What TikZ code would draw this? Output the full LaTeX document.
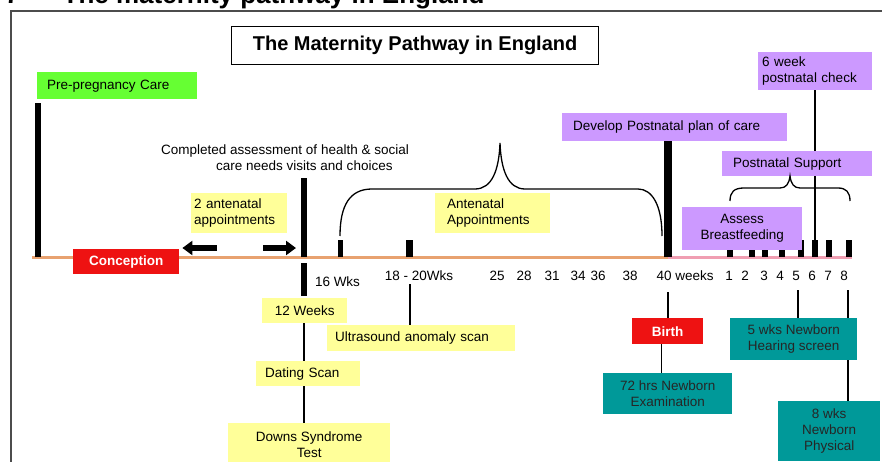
\documentclass[tikz,border=0pt]{standalone}
\usepackage{fontspec}
\setsansfont{Liberation Sans}
\usetikzlibrary{arrows.meta, positioning, calc, backgrounds}

\definecolor{pathyellow}{RGB}{255,255,153}
\definecolor{pathgreen}{RGB}{102,255,51}
\definecolor{pathpurple}{RGB}{204,153,255}
\definecolor{pathteal}{RGB}{0,153,153}
\definecolor{pathred}{RGB}{238,18,18}
\definecolor{lineorange}{RGB}{232,162,112}
\definecolor{linepink}{RGB}{240,158,178}

\begin{document}
\begin{tikzpicture}[x=1pt, y=-1pt, font=\sffamily\fontsize{13.5}{16}\selectfont,
    b/.style={anchor=north west, inner sep=0pt, align=center},
    lb/.style={anchor=north west, inner ysep=0pt, align=left},
    bar/.style={line width=6pt},
    lnk/.style={line width=1.4pt},
    brc/.style={line width=1.3pt},
    fat/.style={line width=6pt, -{Triangle[length=10pt,width=14pt]}},
    wht/.style={text=white, font=\sffamily\bfseries\fontsize{13.5}{16}\selectfont}]
\useasboundingbox (0,0) rectangle (882,462);
\clip (0,0) rectangle (882,462);
\begin{scope}[on background layer]
\fill[white] (0,0) rectangle (882,462);
\end{scope}

% heading and frame
\node[anchor=base west, inner sep=0pt, font=\sffamily\bfseries\fontsize{26}{28}\selectfont] (head) at (5,4)
  {7\hspace{43pt}The maternity pathway in England};
\draw[line width=2pt, black!70] (11,480) -- (11,11) -- (900,11);
\node[b, draw, line width=1.2pt, minimum width=367pt, minimum height=38pt,
  font=\sffamily\bfseries\fontsize{20}{22}\selectfont] (title) at (231,26) {The Maternity Pathway in England};

% timeline points
\coordinate (t0) at (37.5,257);
\coordinate (t12) at (304,257);
\coordinate (t16) at (340,257);
\coordinate (t18) at (409,257);
\coordinate (t40) at (668,257);
\coordinate (c1820) at (410,284);
\coordinate (c40) at (668,292);
\coordinate (c5) at (798,290);
\coordinate (c8) at (848,290);

% boxes
\node[lb, fill=pathgreen, inner xsep=10pt, text width=140pt, minimum height=27pt] (prepreg) at (37,72) {Pre-pregnancy Care};
\node[b, fill=pathred, wht, minimum width=106pt, minimum height=25pt] (concep) at (73,249) {Conception};
\node[lb, fill=pathyellow, inner xsep=3pt, text width=90pt, minimum height=40pt] (ante2) at (191,193) {2 antenatal\\appointments};
\node[anchor=north west, inner sep=0pt, align=left] (assess1) at (161,145)
  {Completed assessment of health \& social\\\hspace*{55pt}care needs visits and choices};
\node[b, fill=pathyellow, minimum width=85pt, minimum height=25pt] (wk12) at (262,298) {12 Weeks};
\node[lb, fill=pathyellow, inner xsep=9pt, text width=86pt, minimum height=25pt] (dating) at (256,361) {Dating Scan};
\node[b, fill=pathyellow, minimum width=162pt, minimum height=42pt] (downs) at (228,423) {Downs Syndrome\\Test};
\node[lb, fill=pathyellow, inner xsep=8pt, text width=172pt, minimum height=26pt] (ultra) at (327,325) {Ultrasound anomaly scan};
\node[lb, fill=pathyellow, inner xsep=12pt, text width=91pt, minimum height=40pt] (ante) at (435,193) {Antenatal\\Appointments};
\node[lb, fill=pathpurple, inner xsep=11pt, text width=203pt, minimum height=28pt] (plan) at (562,113) {Develop Postnatal plan of care};
\node[lb, fill=pathpurple, inner xsep=4pt, text width=106pt, minimum height=38pt] (check6) at (758,52) {6 week\\postnatal check};
\node[lb, fill=pathpurple, inner xsep=11pt, text width=128pt, minimum height=25pt] (support) at (722,151) {Postnatal Support};
\node[b, fill=pathpurple, minimum width=120pt, minimum height=43pt] (assess) at (682,207) {Assess\\Breastfeeding};
\node[b, fill=pathred, wht, minimum width=71pt, minimum height=26pt] (birth) at (632,318) {Birth};
\node[b, fill=pathteal, text=black!85, minimum width=129pt, minimum height=41pt] (exam72) at (603,373) {72 hrs Newborn\\Examination};
\node[b, fill=pathteal, text=black!85, minimum width=127pt, minimum height=42pt] (hear5) at (730,318) {5 wks Newborn\\Hearing screen};
\node[b, fill=pathteal, text=black!85, minimum width=102pt, minimum height=60pt] (phys8) at (778,401) {8 wks\\Newborn\\Physical};

% week labels
\node[inner sep=0pt] (l16) at (337.5,282) {16 Wks};
\node[inner sep=0pt] (l1820) at (419,276) {18 - 20Wks};
\node[inner sep=0pt] (lweeks) at (694.5,276) {weeks};
\foreach \x/\t in {497/25, 524/28, 552/31, 578/34, 598/36, 630/38, 664/40, 729/1, 745/2, 764/3, 780/4, 796/5, 812/6, 828/7, 844/8}
  \node[inner sep=0pt] (n\t) at (\x,276) {\t};

% timeline and bars behind the boxes
\begin{scope}[on background layer]
\draw[line width=3pt, lineorange] (32,257) -- (t40);
\draw[line width=3pt, linepink] (t40) -- (852,257);
\foreach \x/\t in {730/1, 752/2, 765/3, 782/4, 801/5, 815/6, 829/7, 849/8}
  \draw[bar] (\x,257) -- (\x,240) coordinate (p\t);
\draw[lnk] (check6.south -| p6) -- (p6);
\draw[lnk] (c8) -- (c8 |- phys8.north);
\end{scope}

\draw[bar] (t0) -- ([yshift=-4pt]t0 |- prepreg.south);
\draw[bar] (t12) -- ++(0,-79);
\draw[bar] ([yshift=-6pt]t12) -- ([yshift=-39pt]t12);
\draw[line width=5pt] (t16) -- ++(0,-17);
\draw[line width=7pt] (t18) -- ++(0,-17);
\draw[line width=8pt] (t40) -- (t40 |- plan.south);

% arrows either side of the first visits
\coordinate (aL) at (217,248);
\coordinate (aR) at (263,248);
\draw[fat] (aL) -- ([xshift=3pt]concep.north east |- aL);
\draw[fat] (aR) -- ([xshift=-8pt]aR -| t12);

% links
\draw[lnk] (wk12.south -| t12) -- (dating.north -| t12);
\draw[lnk] (dating.south -| t12) -- (downs.north -| t12);
\draw[lnk] (c1820) -- (c1820 |- ultra.north);
\draw[lnk] (c40) -- (c40 |- birth.north);
\draw[lnk] ([xshift=-6pt]birth.south) -- ([xshift=-6pt]birth.south |- exam72.north);
\draw[lnk] (c5) -- (c5 |- hear5.north);

% braces
\draw[brc] (340,236) .. controls (340,205) and (350,189) .. (372,189) -- (475,189)
  .. controls (492,189) and (499,170) .. (500,143) .. controls (501,170) and (508,189) .. (525,189)
  -- (638,189) .. controls (652,189) and (662,205) .. (662,236);
\draw[brc] (730,201) .. controls (730,192) and (734,188) .. (744,188) -- (780,188)
  .. controls (786,188) and (789,184) .. (790,176) .. controls (791,184) and (794,188) .. (800,188)
  -- (838,188) .. controls (846,188) and (850,192) .. (850,201);
\end{tikzpicture}
\end{document}
